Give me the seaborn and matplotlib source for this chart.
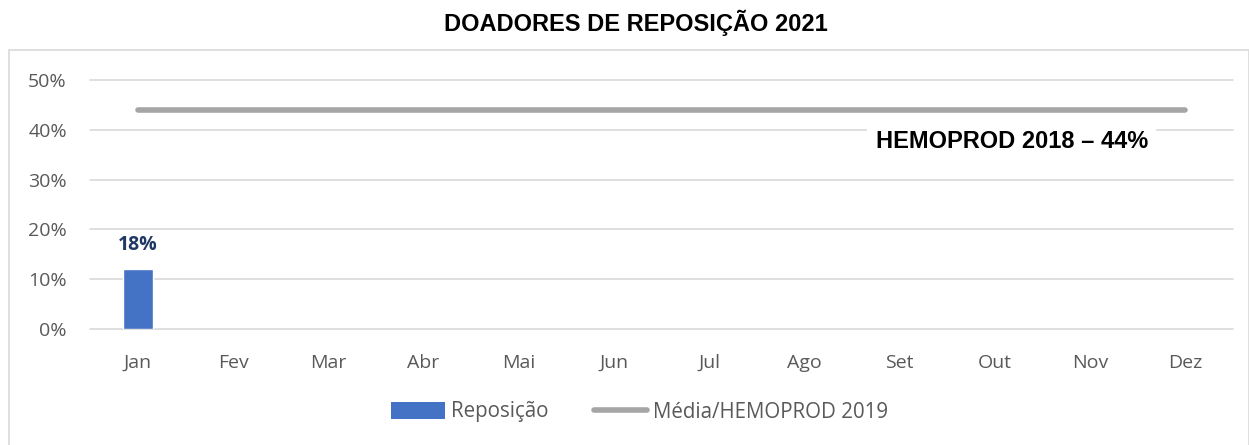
import matplotlib
matplotlib.use("Agg")
import matplotlib.pyplot as plt
import seaborn as sns
import pandas as pd
import numpy as np
from matplotlib.patches import Rectangle
from matplotlib.lines import Line2D
from matplotlib.patches import Patch

months = ["Jan", "Fev", "Mar", "Abr", "Mai", "Jun", "Jul", "Ago", "Set", "Out", "Nov", "Dez"]
reposicao = [0.12, np.nan, np.nan, np.nan, np.nan, np.nan, np.nan, np.nan, np.nan, np.nan, np.nan, np.nan]
bar_labels = ["18%", "", "", "", "", "", "", "", "", "", "", ""]
media = [0.44] * 12
yticks = [0.0, 0.1, 0.2, 0.3, 0.4, 0.5]
ytick_labels = ["0%", "10%", "20%", "30%", "40%", "50%"]

sns.set_theme(style="white")
plt.rcParams['font.family'] = ['Open Sans', 'DejaVu Sans']

W, H = 1249, 445
fig = plt.figure(figsize=(W / 100, H / 100), dpi=100)
fig.patch.set_facecolor("white")

# outer frame
fig.patches.append(Rectangle((9 / W, -0.2), (1248.5 - 9) / W, (H - 50) / H + 0.2,
                             transform=fig.transFigure, fill=False,
                             edgecolor="#D9D9D9", lw=1.2, zorder=0))

left, right, bottom, top = 90.4, 1232.6, 329, 80
ax = fig.add_axes([left / W, (H - bottom) / H, (right - left) / W, (bottom - top) / H])

df = pd.DataFrame({"mes": months, "Reposição": reposicao, "Média": media})
df["x"] = np.arange(len(months))

for y in yticks:
    ax.axhline(y, color="#D9D9D9", lw=1.2, zorder=0, clip_on=False)

sns.barplot(data=df, x="mes", y="Reposição", color="#4472C4", saturation=1,
            width=0.315, ax=ax, zorder=2, order=months)
sns.lineplot(data=df, x="x", y="Média", color="#A5A5A5", lw=4, ax=ax,
             zorder=3, solid_capstyle="round")

for i, (v, lab) in enumerate(zip(reposicao, bar_labels)):
    if lab:
        ax.text(i, 0.169, lab, ha="center", va="center", fontsize=14,
                fontweight="bold", color="#203864")

ax.text(9.18, 0.377, "HEMOPROD 2018 – 44%", ha="center", va="center",
        fontsize=17, fontweight="bold", color="black", family="Liberation Sans",
        bbox=dict(facecolor="white", edgecolor="none", pad=6), zorder=5)

ax.set_xlim(-0.5, 11.5)
ax.set_ylim(0, 0.5)
ax.set_yticks(yticks)
ax.set_yticklabels(ytick_labels)
ax.set_xlabel("")
ax.set_ylabel("")
ax.tick_params(axis="both", length=0, labelsize=14, labelcolor="#595959")
ax.tick_params(axis="y", pad=17)
ax.tick_params(axis="x", pad=18)
for s in ax.spines.values():
    s.set_visible(False)

fig.text(636 / W, 1 - 23 / H, "DOADORES DE REPOSIÇÃO 2021", ha="center", va="center",
         fontsize=17, fontweight="bold", family="Liberation Sans", color="black")

handles = [Patch(facecolor="#4472C4", edgecolor="none"),
           Line2D([0], [0], color="#A5A5A5", lw=4, solid_capstyle="round")]
fig.legend(handles, ["Reposição", "Média/HEMOPROD 2019"], loc="center",
           bbox_to_anchor=(640 / W, 1 - 412 / H), ncol=2, frameon=False,
           fontsize=14.8, labelcolor="#595959", handlelength=2.6, handletextpad=0.3,
           columnspacing=2.2, handleheight=0.9)

fig.savefig("out.png", dpi=100, facecolor="white")
